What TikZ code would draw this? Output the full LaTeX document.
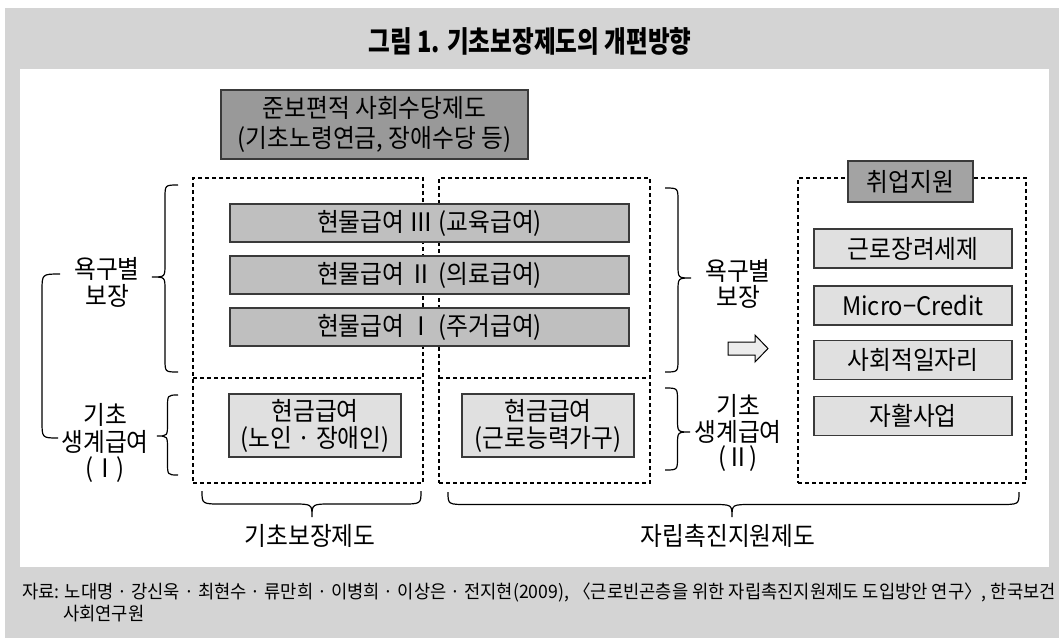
\documentclass[tikz,border=0pt]{standalone}
\usepackage{fontspec}
\setmainfont{Noto Sans CJK KR}[FakeStretch=0.93]
\newfontfamily\titlefont{Noto Sans CJK KR}[FakeStretch=0.8]
\newfontfamily\capfont{Noto Sans CJK KR}[FakeStretch=0.955]
\definecolor{panelgray}{HTML}{D4D4D4}
\definecolor{darkfill}{HTML}{999999}
\definecolor{midfill}{HTML}{BFBFBF}
\definecolor{lightfill}{HTML}{E0E0E0}
\definecolor{edge}{HTML}{3A3A3A}
\newcommand{\vbrc}[5]{% xe, xt, y1, ym, y2
  \draw[brc] (#1,#3) .. controls ({(#1+#2)/2},#3) .. ({(#1+#2)/2},{#3+13})
    -- ({(#1+#2)/2},{#4-13}) .. controls ({(#1+#2)/2},#4) .. (#2,#4)
    .. controls ({(#1+#2)/2},#4) .. ({(#1+#2)/2},{#4+13})
    -- ({(#1+#2)/2},{#5-13}) .. controls ({(#1+#2)/2},#5) .. (#1,#5);}
\newcommand{\hbrc}[5]{% ye, yt, x1, xm, x2
  \draw[brc] (#3,#1) .. controls (#3,{(#1+#2)/2}) .. ({#3+20},{(#1+#2)/2})
    -- ({#4-20},{(#1+#2)/2}) .. controls (#4,{(#1+#2)/2}) .. (#4,#2)
    .. controls (#4,{(#1+#2)/2}) .. ({#4+20},{(#1+#2)/2})
    -- ({#5-20},{(#1+#2)/2}) .. controls (#5,{(#1+#2)/2}) .. (#5,#1);}
\tikzset{
  lbl/.style={inner sep=0pt, align=center, font=\fontsize{25.5}{28}\selectfont},
  dbox/.style={draw=black, line width=1.3pt, dash pattern=on 4pt off 3pt, inner sep=0pt},
  dline/.style={draw=black, line width=1.3pt, dash pattern=on 4pt off 3pt},
  fbox/.style={draw=edge, line width=1.3pt, inner sep=0pt, align=center,
    font=\fontsize{25.5}{27}\selectfont},
  brc/.style={draw=black, line width=1.2pt},
}
\begin{document}
\begin{tikzpicture}[x=1pt,y=-1pt]
\useasboundingbox (0,0) rectangle (1059,638);
\fill[white] (0,0) rectangle (1059,638);
\fill[panelgray] (5,8) rectangle (1059,638);
\fill[white] (20,69) rectangle (1049,567);

\node[inner sep=0pt, font=\titlefont\bfseries\fontsize{29.5}{30}\selectfont] (title) at (530,41) {그림 1. 기초보장제도의 개편방향};

\node[fbox, fill=darkfill, minimum width=307, minimum height=69, font=\fontsize{25.5}{30}\selectfont] (top) at (374.5,124.5) {준보편적 사회수당제도\\(기초노령연금, 장애수당 등)};

% dashed frames
\node[dbox, minimum width=230, minimum height=305] (A) at (308,330.5) {};
\node[dbox, minimum width=211, minimum height=305] (B) at (544.5,330.5) {};
\node[dbox, minimum width=228, minimum height=305] (C) at (912,330.5) {};
\coordinate (a1) at (193,378); \coordinate (a2) at (423,378);
\coordinate (b1) at (439,378); \coordinate (b2) at (650,378);
\draw[dline] (a1) -- (a2);
\draw[dline] (b1) -- (b2);

% bars
\node[fbox, fill=midfill, minimum width=399, minimum height=38] (k3) at (429.5,223) {현물급여 Ⅲ (교육급여)};
\node[fbox, fill=midfill, minimum width=399, minimum height=38] (k2) at (429.5,275) {현물급여 Ⅱ (의료급여)};
\node[fbox, fill=midfill, minimum width=399, minimum height=38] (k1) at (429.5,327) {현물급여 Ⅰ (주거급여)};

% cash boxes
\node[fbox, fill=lightfill, minimum width=172, minimum height=63] (c1) at (315,425.5) {현금급여\\(노인 · 장애인)};
\node[fbox, fill=lightfill, minimum width=172, minimum height=63] (c2) at (548,425.5) {현금급여\\(근로능력가구)};

% right column
\node[fbox, fill=darkfill!90!white, minimum width=125, minimum height=41] (job) at (910.5,181.5) {취업지원};
\node[fbox, fill=lightfill, minimum width=198, minimum height=39] (r1) at (913,248.5) {근로장려세제};
\node[fbox, fill=lightfill, minimum width=198, minimum height=39] (r2) at (913,305.5) {Micro−Credit};
\node[fbox, fill=lightfill, minimum width=198, minimum height=39] (r3) at (913,360) {사회적일자리};
\node[fbox, fill=lightfill, minimum width=198, minimum height=39] (r4) at (913,416) {자활사업};

% arrow
\filldraw[fill=lightfill!60!white, draw=black, line width=1pt]
  (728,342) -- (755,342) -- (755,335) -- (768,348.5) -- (755,362) -- (755,355) -- (728,355) -- cycle;

% left labels and braces
\node[lbl, font=\fontsize{25.5}{27}\selectfont] (ln) at (107,282.5) {욕구별\\보장};
\node[lbl, font=\fontsize{25.5}{26.5}\selectfont] (lb) at (105,443) {기초\\생계급여\\(Ⅰ)};
\vbrc{178}{152}{185}{277}{372}
\vbrc{178}{157}{395}{436}{475}
\draw[brc] (60,274) .. controls (42,274) .. (42,291) -- (42,421) .. controls (42,438) .. (58,438);

% right labels and braces
\node[lbl, font=\fontsize{25.5}{26.5}\selectfont] (rn) at (738,284) {욕구별\\보장};
\node[lbl, font=\fontsize{25.5}{25.5}\selectfont] (rb) at (738,433) {기초\\생계급여\\(Ⅱ)};
\vbrc{665}{691}{188}{278}{372}
\vbrc{665}{690}{388}{432}{470}

% bottom braces
\hbrc{491}{517}{202}{312}{421}
\hbrc{492}{517}{448}{732}{1019}
\node[lbl] (bl) at (310,536) {기초보장제도};
\node[lbl] (br) at (728,536) {자립촉진지원제도};

% caption
\node[inner sep=0pt, anchor=west, font=\capfont\fontsize{18.5}{20}\selectfont] (cap1) at (22,592) {자료: 노대명 · 강신욱 · 최현수 · 류만희 · 이병희 · 이상은 · 전지현(2009), 〈근로빈곤층을 위한 자립촉진지원제도 도입방안 연구〉, 한국보건};
\node[inner sep=0pt, anchor=west, font=\capfont\fontsize{18.5}{20}\selectfont] (cap2) at (63,614) {사회연구원};
\end{tikzpicture}
\end{document}
